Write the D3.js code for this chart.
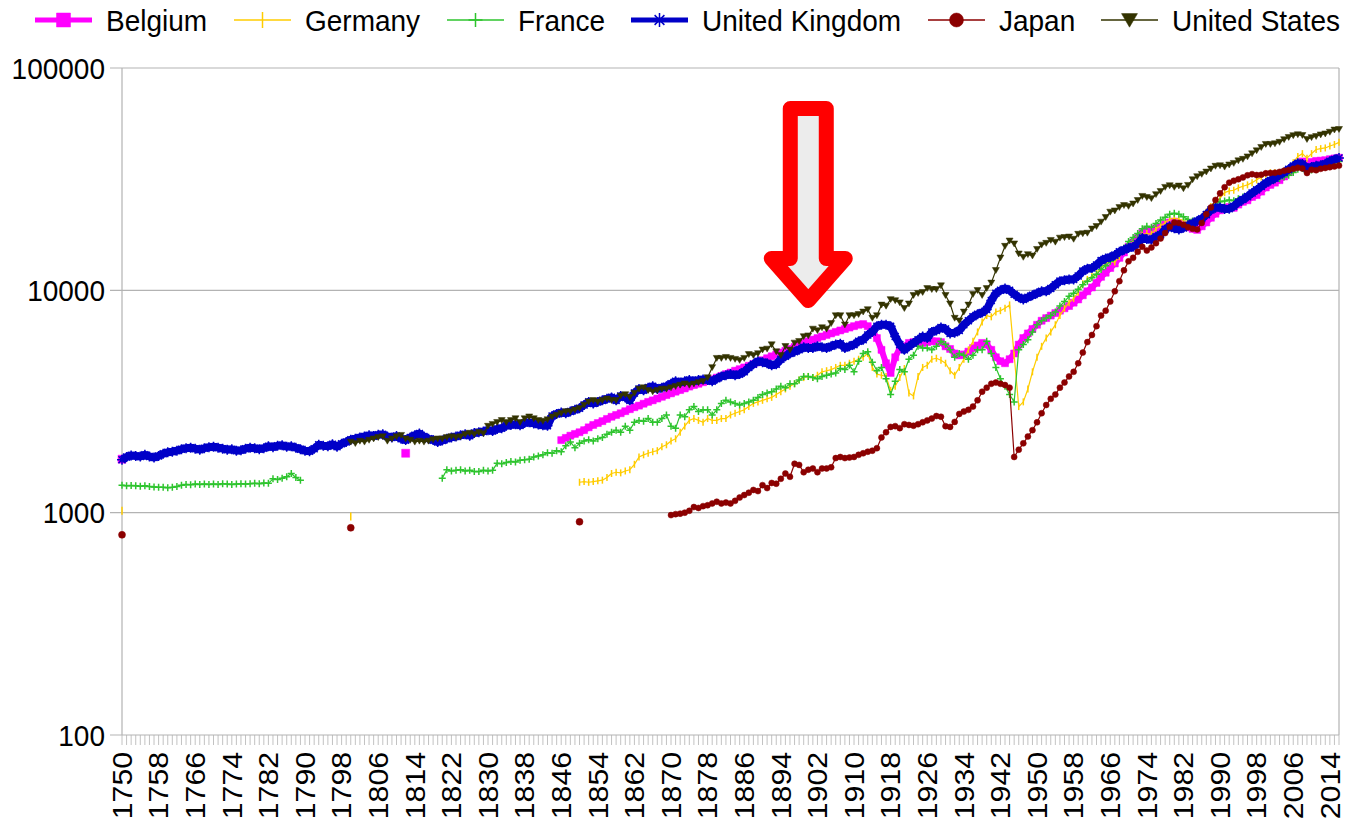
<!DOCTYPE html>
<html lang="en">
<head>
<meta charset="UTF-8">
<title>GDP per capita 1750-2016</title>
<style>
  body { margin: 0; background: #fff; }
  svg { display: block; font-family: "Liberation Sans", Arial, sans-serif; }
</style>
</head>
<body>
<svg id="chart" width="1347" height="821"></svg>
<script src="https://d3js.org/d3.v7.min.js"></script>
<script>
// one category per year
const firstYear = 1750;
const lastYear = 2016;
const tickYears = [1750, 1758, 1766, 1774, 1782, 1790, 1798, 1806, 1814, 1822, 1830, 1838,
  1846, 1854, 1862, 1870, 1878, 1886, 1894, 1902, 1910, 1918, 1926, 1934, 1942, 1950,
  1958, 1966, 1974, 1982, 1990, 1998, 2006, 2014];
const yTicks = [100, 1000, 10000, 100000];

// Belgium: two lone points, then yearly from 1846
const belgiumPoints = [[1750, 1740], [1812, 1850]];
const belgiumStart = 1846;
const belgiumValues = [
  2120, 2170, 2220, 2260,
  2300, 2350, 2420, 2480, 2530, 2580, 2640, 2700, 2750, 2800,
  2860, 2920, 2980, 3030, 3090, 3150, 3200, 3260, 3320, 3380,
  3440, 3500, 3560, 3620, 3690, 3750, 3800, 3860, 3920, 3980,
  4050, 4120, 4200, 4270, 4350, 4420, 4500, 4580, 4660, 4750,
  4850, 4950, 5050, 5150, 5250, 5350, 5450, 5560, 5680, 5800,
  5900, 6000, 6100, 6200, 6300, 6400, 6500, 6600, 6700, 6800,
  6900, 7000, 7050, 6900, 6600, 6100, 5400, 4700, 4250, 5000,
  5500, 5600, 5800, 5850, 5800, 5800, 5850, 5900, 5900, 5850,
  5600, 5450, 5200, 5100, 5150, 5300, 5500, 5650, 5800, 5700,
  5400, 5000, 4800, 4700, 4900, 5200, 5700, 6100, 6400, 6700,
  7000, 7300, 7500, 7700, 7900, 8100, 8300, 8500, 8800, 9100,
  9500, 9900, 10300, 10800, 11500, 12000, 12600, 13200, 14000, 14800,
  15700, 16400, 17200, 18100, 18600, 18400, 19000, 19300, 19800, 20200,
  20400, 20000, 19600, 19200, 18900, 18700, 19400, 20200, 21200, 22100,
  22900, 23400, 23700, 23500, 24300, 25000, 25400, 26300, 26800, 27800,
  29000, 29800, 30500, 31300, 32500, 34000, 35500, 37000, 38000, 37000,
  37800, 38200, 38300, 38500, 38900, 39200, 39500
];

// Germany
const germanyPoints = [[1750, 1020], [1800, 960]];
const germanyStart = 1850;
const germanyValues = [
  1370, 1380, 1370, 1380, 1390, 1400, 1440, 1500, 1520, 1510,
  1540, 1560, 1650, 1780, 1820, 1850, 1880, 1900, 1980, 2020,
  2100, 2150, 2300, 2450, 2600, 2650, 2600, 2550, 2650, 2600,
  2600, 2650, 2650, 2750, 2800, 2850, 2900, 3000, 3100, 3150,
  3200, 3250, 3300, 3400, 3500, 3600, 3700, 3800, 3950, 4050,
  4100, 4050, 4150, 4300, 4350, 4400, 4500, 4600, 4600, 4700,
  4800, 4900, 5000, 5200, 4500, 4200, 4150, 4100, 3550, 3700,
  4050, 4450, 3450, 3350, 4100, 4500, 4600, 4900, 4950, 4850,
  4700, 4350, 4150, 4500, 4900, 5400, 5900, 6500, 7200, 7700,
  7600, 8000, 8100, 8300, 8600, 5100, 3000, 3150, 3600, 4300,
  5000, 5600, 6100, 6500, 7000, 7700, 8300, 8800, 9200, 9800,
  10700, 11200, 11600, 11900, 12600, 13200, 13500, 13400, 14200, 15200,
  15900, 16400, 17000, 17800, 18000, 17900, 18900, 19500, 20100, 20900,
  21100, 20900, 20600, 20400, 20400, 20200, 21300, 22500, 23800, 24900,
  26000, 27500, 28000, 28200, 28900, 29400, 29800, 30500, 31400, 32300,
  33300, 33800, 33800, 33700, 34300, 35200, 37500, 40000, 41200, 39300,
  41200, 43000, 43400, 43700, 44600, 45300, 46300
];

// France: 1750-1789, then 1820 onwards
const franceEarlyStart = 1750;
const franceEarlyValues = [
  1330, 1320, 1325, 1320, 1315, 1320, 1310, 1305, 1300, 1300,
  1295, 1300, 1310, 1330, 1340, 1335, 1345, 1340, 1345, 1340,
  1345, 1340, 1350, 1345, 1340, 1345, 1350, 1345, 1350, 1355,
  1350, 1360, 1355, 1420, 1410, 1430, 1450, 1500, 1440, 1400
];
const franceStart = 1820;
const franceValues = [
  1430, 1560, 1540, 1550, 1560, 1540, 1550, 1530, 1530, 1550,
  1540, 1550, 1670, 1660, 1680, 1700, 1690, 1720, 1730, 1740,
  1780, 1800, 1820, 1860, 1850, 1900, 1880, 2000, 2080, 1960,
  2050, 2100, 2130, 2100, 2150, 2180, 2250, 2300, 2350, 2300,
  2450, 2350, 2550, 2600, 2580, 2650, 2550, 2550, 2650, 2750,
  2450, 2400, 2750, 2700, 2900, 3000, 2850, 2900, 2900, 2750,
  2900, 3100, 3200, 3150, 3100, 3050, 3100, 3150, 3200, 3300,
  3400, 3450, 3500, 3600, 3700, 3650, 3800, 3800, 3950, 4100,
  4100, 4050, 4000, 4100, 4150, 4200, 4250, 4450, 4400, 4600,
  4300, 4800, 5200, 5300, 4750, 4350, 4500, 4000, 3400, 3900,
  4400, 4300, 4900, 5100, 5600, 5500, 5500, 5400, 5600, 5900,
  5700, 5400, 5000, 5200, 5100, 4900, 5100, 5400, 5400, 5900,
  5200, 4500, 4000, 3700, 3400, 3150, 5400, 5700, 6000, 6500,
  7000, 7300, 7500, 7700, 8000, 8500, 8900, 9400, 9700, 10100,
  10600, 11000, 11400, 11800, 12400, 12900, 13500, 14100, 14600, 15500,
  16600, 17300, 18000, 18900, 19400, 19200, 20000, 20700, 21300, 22000,
  22200, 22000, 21400, 20800, 20500, 20400, 21200, 22000, 23200, 24300,
  25000, 25200, 25500, 25300, 25800, 26300, 26600, 27300, 28300, 29300,
  30300, 30900, 31400, 31800, 32300, 32900, 33900, 35000, 35300, 34100,
  34800, 35600, 35800, 36300, 36800, 37400, 38000
];

// United Kingdom
const ukStart = 1750;
const ukValues = [
  1730, 1780, 1810, 1800, 1790, 1820, 1790, 1770, 1800, 1840,
  1870, 1880, 1900, 1930, 1950, 1960, 1940, 1920, 1950, 1970,
  1980, 1960, 1940, 1920, 1930, 1900, 1910, 1940, 1960, 1950,
  1930, 1950, 1990, 1970, 2000, 2010, 1980, 1990, 1960, 1930,
  1900, 1890, 1940, 2020, 2000, 1990, 2030, 1980, 2040, 2080,
  2130, 2150, 2180, 2200, 2230, 2210, 2240, 2250, 2200, 2180,
  2210, 2150, 2120, 2180, 2230, 2270, 2200, 2150, 2120, 2080,
  2110, 2150, 2180, 2200, 2230, 2250, 2220, 2280, 2300, 2320,
  2350, 2330, 2380, 2400, 2460, 2480, 2500, 2470, 2530, 2550,
  2520, 2490, 2470, 2460, 2720, 2780, 2820, 2800, 2850, 2900,
  2950, 3050, 3150, 3100, 3150, 3200, 3250, 3300, 3200, 3350,
  3300, 3200, 3450, 3600, 3550, 3650, 3700, 3600, 3650, 3700,
  3800, 3900, 3850, 3900, 3950, 3900, 3950, 3970, 3950, 3900,
  4000, 4100, 4150, 4200, 4150, 4200, 4300, 4500, 4650, 4800,
  4750, 4700, 4600, 4650, 4900, 5050, 5200, 5300, 5400, 5550,
  5500, 5500, 5600, 5550, 5500, 5600, 5700, 5750, 5500, 5600,
  5700, 5900, 6000, 6300, 6500, 6900, 7000, 7000, 6900, 6200,
  5700, 5400, 5600, 5800, 6000, 6200, 6100, 6500, 6600, 6800,
  6700, 6400, 6450, 6600, 7000, 7300, 7600, 7800, 7950, 8200,
  9000, 9700, 10000, 10200, 10000, 9600, 9300, 9100, 9300, 9500,
  9700, 9900, 9900, 10200, 10600, 11000, 11100, 11200, 11200, 11600,
  12200, 12500, 12600, 13000, 13600, 13900, 14100, 14400, 14900, 15200,
  15500, 15700, 16200, 17200, 17000, 16900, 17400, 17800, 18800, 19400,
  19000, 18800, 19100, 19600, 20000, 20500, 21000, 21900, 23000, 23500,
  23600, 23200, 23300, 23900, 24900, 25600, 26400, 27400, 28300, 29300,
  30400, 31200, 31900, 33000, 33900, 35000, 36200, 37300, 37000, 35400,
  35900, 36300, 36500, 37100, 38100, 38800, 39400
];

// Japan
const japanPoints = [[1750, 795], [1800, 855], [1850, 910]];
const japanStart = 1870;
const japanValues = [
  975, 985, 990, 1000, 1020, 1060, 1050, 1070, 1080, 1100,
  1120, 1100, 1110, 1100, 1130, 1170, 1200, 1230, 1265, 1250,
  1330, 1290, 1360, 1350, 1420, 1500, 1450, 1660, 1640, 1520,
  1560, 1580, 1520, 1580, 1580, 1600, 1760, 1780, 1760, 1770,
  1780, 1820, 1850, 1880, 1900, 1950, 2180, 2300, 2430, 2450,
  2400, 2500, 2480, 2460, 2500, 2550, 2600, 2650, 2720, 2700,
  2450, 2430, 2560, 2780, 2850, 2900, 3000, 3200, 3500, 3650,
  3800, 3850, 3800, 3750, 3650, 1780, 1920, 2050, 2200, 2350,
  2550, 2800, 3050, 3250, 3400, 3650, 3850, 4100, 4300, 4700,
  5250, 5850, 6300, 6900, 7700, 8100, 8900, 9900, 11000, 12300,
  13500, 14000, 14900, 15700, 15100, 15600, 16300, 17100, 18100, 19300,
  20200, 20100, 19700, 19200, 18900, 18800, 20100, 22000, 23600, 25500,
  27300, 29100, 30500, 31100, 31600, 32200, 32900, 33300, 33000, 33100,
  33600, 33700, 33800, 34100, 34500, 34800, 35200, 35600, 35300, 33700,
  34900, 34700, 35200, 35500, 35800, 36100, 36400
];

// United States
const usStart = 1800;
const usValues = [
  2080, 2050, 2100, 2080, 2120, 2150, 2180, 2200, 2100, 2150,
  2200, 2230, 2150, 2120, 2080, 2100, 2080, 2100, 2130, 2150,
  2150, 2180, 2200, 2180, 2200, 2250, 2280, 2250, 2300, 2270,
  2450, 2500, 2550, 2600, 2550, 2600, 2650, 2550, 2650, 2700,
  2650, 2600, 2580, 2620, 2700, 2750, 2800, 2850, 2850, 2900,
  2950, 3050, 3150, 3200, 3150, 3200, 3250, 3200, 3200, 3350,
  3400, 3300, 3450, 3600, 3650, 3550, 3500, 3550, 3600, 3600,
  3650, 3700, 3750, 3800, 3750, 3800, 3850, 3900, 4050, 4500,
  4950, 4950, 5000, 4950, 4900, 4850, 4950, 5150, 5100, 5200,
  5400, 5450, 5700, 5300, 5100, 5600, 5400, 5800, 5900, 6200,
  6250, 6700, 6600, 6800, 6700, 7100, 7700, 7700, 7000, 7700,
  7700, 7800, 8000, 8200, 7500, 7700, 8600, 8500, 9100, 9000,
  8800, 8300, 8700, 9500, 9700, 9800, 10200, 10100, 10100, 10500,
  9500, 8700, 7500, 7300, 8000, 8600, 9600, 10000, 9500, 10200,
  10800, 12300, 14000, 15800, 16700, 16200, 14600, 14100, 14500, 14300,
  15300, 16000, 16300, 16800, 16500, 17200, 17300, 17400, 17000, 17900,
  18000, 18100, 18900, 19400, 20300, 21300, 22500, 22800, 23600, 24100,
  23900, 24500, 25400, 26500, 26200, 25900, 27000, 27900, 29100, 29600,
  29100, 29500, 28700, 29700, 31500, 32500, 33300, 34100, 35200, 36200,
  36400, 35900, 36700, 37300, 38300, 38900, 39900, 41200, 42500, 44000,
  45400, 45400, 45700, 46400, 47700, 48800, 49700, 50200, 49800, 47800,
  48700, 49300, 50100, 50600, 51500, 52700, 53000
];

function toPoints(start, values) {
  return values.map((v, i) => ({ year: start + i, value: v }));
}

const series = [
  { name: "Belgium", color: "#ff00ff", lineWidth: 6, marker: "square", size: 3.5,
    segments: [toPoints(belgiumStart, belgiumValues)], lone: belgiumPoints },
  { name: "Germany", color: "#ffcc00", lineWidth: 1.2, marker: "bar", size: 3.5,
    segments: [toPoints(germanyStart, germanyValues)], lone: germanyPoints },
  { name: "France", color: "#2ec42e", lineWidth: 1.2, marker: "plus", size: 3.5,
    segments: [toPoints(franceEarlyStart, franceEarlyValues), toPoints(franceStart, franceValues)], lone: [] },
  { name: "United Kingdom", color: "#0000c8", lineWidth: 8, marker: "asterisk", size: 5,
    segments: [toPoints(ukStart, ukValues)], lone: [] },
  { name: "Japan", color: "#8b0000", lineWidth: 1.2, marker: "circle", size: 3,
    segments: [toPoints(japanStart, japanValues)], lone: japanPoints },
  { name: "United States", color: "#333300", lineWidth: 1.2, marker: "triDown", size: 3.5,
    segments: [toPoints(usStart, usValues)], lone: [] }
];

const svg = d3.select("#chart");
const plot = { left: 122, right: 1339, top: 68, bottom: 735 };
const gridColor = "#b3b3b3";
const textStretch = 1.08; // reference text is a little taller than wide

const x = d3.scalePoint()
  .domain(d3.range(firstYear, lastYear + 1))
  .range([plot.left, plot.right]);

const y = d3.scaleLog()
  .domain([100, 100000])
  .range([plot.bottom, plot.top]);

// marker shapes, s = half size
function markerPath(type, s) {
  switch (type) {
    case "square": return `M${-s},${-s}h${2 * s}v${2 * s}h${-2 * s}Z`;
    case "bar": return `M0,${-s}V${s}`;
    case "plus": return `M${-s},0H${s}M0,${-s}V${s}`;
    case "asterisk": {
      const d = s * 0.7;
      return `M${-s},0H${s}M0,${-s}V${s}M${-d},${-d}L${d},${d}M${-d},${d}L${d},${-d}`;
    }
    case "circle": return `M${-s},0A${s},${s} 0 1,0 ${s},0A${s},${s} 0 1,0 ${-s},0Z`;
    case "triDown": return `M${-s},${-0.8 * s}L${s},${-0.8 * s}L0,${0.9 * s}Z`;
  }
}
const filledMarkers = new Set(["square", "circle", "triDown"]);

function addMarker(g, type, s, color, tx, ty) {
  const filled = filledMarkers.has(type);
  g.append("path")
    .attr("transform", `translate(${tx},${ty})`)
    .attr("d", markerPath(type, s))
    .attr("fill", filled ? color : "none")
    .attr("stroke", color)
    .attr("stroke-width", filled ? 0.5 : 1.5);
}

// gridlines
svg.append("g").selectAll("line")
  .data(yTicks)
  .enter().append("line")
  .attr("x1", plot.left - 12).attr("x2", plot.right)
  .attr("y1", d => y(d)).attr("y2", d => y(d))
  .attr("stroke", gridColor).attr("stroke-width", 1.2);

// plot frame (left + right)
svg.append("line")
  .attr("x1", plot.left).attr("x2", plot.left)
  .attr("y1", plot.top).attr("y2", plot.bottom)
  .attr("stroke", gridColor).attr("stroke-width", 1.2);
svg.append("line")
  .attr("x1", plot.right).attr("x2", plot.right)
  .attr("y1", plot.top).attr("y2", plot.bottom)
  .attr("stroke", gridColor).attr("stroke-width", 1.2);

// minor year ticks under the axis
svg.append("g").selectAll("line")
  .data(x.domain())
  .enter().append("line")
  .attr("x1", d => x(d)).attr("x2", d => x(d))
  .attr("y1", plot.bottom).attr("y2", plot.bottom + 10)
  .attr("stroke", gridColor).attr("stroke-width", 0.8);

// y labels
svg.append("g").selectAll("text")
  .data(yTicks)
  .enter().append("text")
  .attr("transform", d => `translate(105,${y(d)}) scale(1,${textStretch})`)
  .attr("dy", "0.35em")
  .attr("text-anchor", "end")
  .attr("font-size", 28)
  .text(d => d);

// x labels
svg.append("g").selectAll("text")
  .data(tickYears)
  .enter().append("text")
  .attr("transform", d => `translate(${x(d)},752) scale(1,${textStretch}) rotate(-90)`)
  .attr("dy", "0.35em")
  .attr("text-anchor", "end")
  .attr("font-size", 28)
  .text(d => d);

// series
const line = d3.line()
  .x(d => x(d.year))
  .y(d => y(d.value));

series.forEach(s => {
  const g = svg.append("g");
  s.segments.forEach(seg => {
    g.append("path")
      .datum(seg)
      .attr("d", line)
      .attr("fill", "none")
      .attr("stroke", s.color)
      .attr("stroke-width", s.lineWidth)
      .attr("stroke-linejoin", "round");
    seg.forEach(d => addMarker(g, s.marker, s.size, s.color, x(d.year), y(d.value)));
  });
  s.lone.forEach(([yr, v]) => addMarker(g, s.marker, s.size + 0.5, s.color, x(yr), y(v)));
});

// legend
const legendX = [35, 234, 447, 631, 928, 1101];
const legendMarkerSize = { square: 7, bar: 8, plus: 7, asterisk: 7, circle: 7, triDown: 8 };
series.forEach((s, i) => {
  const g = svg.append("g").attr("transform", `translate(${legendX[i]},20)`);
  g.append("line")
    .attr("x1", 0).attr("x2", 57)
    .attr("stroke", s.color)
    .attr("stroke-width", s.lineWidth > 2 ? 5 : 1.5);
  addMarker(g, s.marker, legendMarkerSize[s.marker], s.color, 28.5, 0);
  g.append("text")
    .attr("transform", `translate(71,0) scale(1,${textStretch})`)
    .attr("dy", "0.36em")
    .attr("font-size", 28)
    .text(s.name);
});

// red arrow pointing at ~1900
const tipX = x(1900), tipY = y(9000);
svg.append("path")
  .attr("transform", `translate(${tipX},${tipY})`)
  .attr("d", "M-18,-192L18,-192L18,-42L37,-42L0,0L-37,-42L-18,-42Z")
  .attr("fill", "#ececec")
  .attr("stroke", "#ff0000")
  .attr("stroke-width", 15)
  .attr("stroke-linejoin", "round");
</script>
</body>
</html>
